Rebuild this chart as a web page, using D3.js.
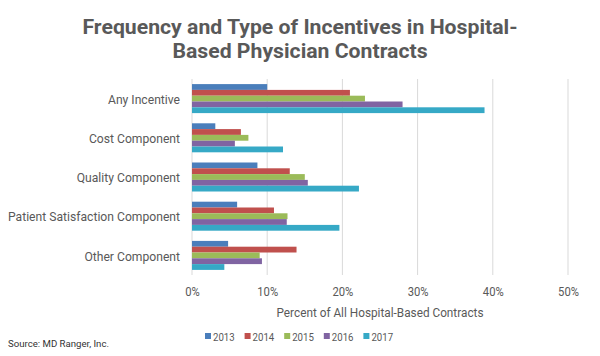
<!DOCTYPE html>
<html><head><meta charset="utf-8">
<script src="https://cdn.jsdelivr.net/npm/d3@7"></script>
<style>
body{margin:0;background:#fff;}
text{font-family:Roboto,"Noto Sans",sans-serif;}
</style></head><body>
<svg id="c" width="600" height="356"></svg>
<script>
const categories = ["Any Incentive","Cost Component","Quality Component","Patient Satisfaction Component","Other Component"];
const years = ["2013","2014","2015","2016","2017"];
const v2013 = [10.0, 3.1, 8.7, 6.0, 4.8];
const v2014 = [21.0, 6.5, 13.0, 10.9, 13.9];
const v2015 = [23.0, 7.5, 15.0, 12.7, 9.0];
const v2016 = [28.0, 5.7, 15.4, 12.6, 9.3];
const v2017 = [38.9, 12.1, 22.2, 19.6, 4.3];
const xTicks = [0,10,20,30,40,50];
const colors = ["#4a7ebb","#c0504d","#9bbb59","#8064a2","#36a9c6"];
const series = [v2013,v2014,v2015,v2016,v2017];

(function(){
const svg = d3.select("#c");
const pL = 192, pR = 568, pT = 79, pB = 275;
const x = d3.scaleLinear().domain([0,50]).range([pL,pR]);
const y0 = d3.scaleBand().domain(categories).range([pT,pB]).paddingInner(0.26).paddingOuter(0.13);
const y1 = d3.scaleBand().domain(years).range([0,y0.bandwidth()]);

function condense(sel, k){
  sel.each(function(){
    const l = this.getComputedTextLength();
    d3.select(this).attr("textLength", l*k).attr("lengthAdjust","spacingAndGlyphs");
  });
}

// title
const t1 = svg.append("text").attr("x",300).attr("y",34).attr("text-anchor","middle").attr("fill","#595959")
  .attr("font-weight","bold").attr("font-size",20).text("Frequency and Type of Incentives in Hospital-");
const t2 = svg.append("text").attr("x",300).attr("y",58).attr("text-anchor","middle").attr("fill","#595959")
  .attr("font-weight","bold").attr("font-size",20).text("Based Physician Contracts");
const titleK = 435 / t1.node().getComputedTextLength();
condense(t1, titleK); condense(t2, titleK);

// gridlines
svg.append("g").selectAll("line").data(xTicks).join("line")
  .attr("x1",d=>x(d)).attr("x2",d=>x(d)).attr("y1",pT).attr("y2",pB)
  .attr("stroke","#d9d9d9").attr("stroke-width",1);

// bars
const g = svg.append("g");
categories.forEach((c,ci)=>{
  series.forEach((s,si)=>{
    g.append("rect").attr("x",x(0)).attr("y",y0(c)+y1(years[si]))
      .attr("width",x(s[ci])-x(0)).attr("height",y1.bandwidth())
      .attr("fill",colors[si]);
  });
});

// axes
const xAxis = d3.axisBottom(x).tickValues(xTicks).tickFormat(d=>d+"%").tickSize(0).tickPadding(12);
const xa = svg.append("g").attr("transform",`translate(0,${pB})`).call(xAxis);
xa.select(".domain").remove();
xa.attr("font-family",null).attr("font-size",null);
xa.selectAll("text").attr("fill","#595959").attr("font-size",12.5);
condense(xa.selectAll("text"), 0.9);

const yAxis = d3.axisLeft(y0).tickSize(0).tickPadding(12);
const ya = svg.append("g").attr("transform",`translate(${pL},0)`).call(yAxis);
ya.select(".domain").remove();
ya.attr("font-family",null).attr("font-size",null);
ya.selectAll("text").attr("fill","#595959").attr("font-size",13).attr("dy","0.4em");
const widest = d3.max(ya.selectAll("text").nodes(), n=>n.getComputedTextLength());
condense(ya.selectAll("text"), 172/widest);

const at = svg.append("text").attr("x",(pL+pR)/2).attr("y",317).attr("text-anchor","middle")
  .attr("fill","#595959").attr("font-size",12).text("Percent of All Hospital-Based Contracts");
condense(at, 207/at.node().getComputedTextLength());

// legend
const lg = svg.append("g");
years.forEach((yr,i)=>{
  const lx = 205 + i*39.6;
  lg.append("rect").attr("x",lx).attr("y",333).attr("width",6).attr("height",6).attr("fill",colors[i]);
  const tt = lg.append("text").attr("x",lx+8).attr("y",341).attr("fill","#595959").attr("font-size",11.5).text(yr);
  condense(tt, 21.7/tt.node().getComputedTextLength());
});

const src = svg.append("text").attr("x",8).attr("y",347).attr("fill","#333").attr("font-size",9.5).text("Source: MD Ranger, Inc.");
condense(src, 101/src.node().getComputedTextLength());
})();
</script></body></html>
